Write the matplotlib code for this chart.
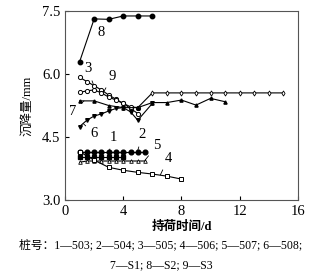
import matplotlib
matplotlib.use("Agg")
import matplotlib.pyplot as plt

plt.rcParams['font.family'] = ['Liberation Serif', 'Noto Sans CJK SC']
plt.rcParams['font.size'] = 9

# 桩号 1—503
x1 = [1, 1.5, 2, 2.5, 3, 3.5, 4]
y1 = [4.02, 4.02, 4.02, 4.02, 4.02, 4.02, 4.02]
# 2—504
x2 = [1, 1.5, 2, 2.5, 3, 3.5, 4, 4.5, 5, 5.5]
y2 = [4.15, 4.15, 4.15, 4.15, 4.15, 4.15, 4.15, 4.15, 4.15, 4.15]
# 3—505
x3 = [1, 1.5, 2, 2.5, 3, 3.5, 4, 4.5, 5]
y3 = [5.92, 5.82, 5.72, 5.62, 5.5, 5.4, 5.3, 5.18, 5.06]
# 4—506
x4 = [1, 2, 3, 4, 5, 6, 7, 8]
y4 = [4.15, 3.95, 3.78, 3.71, 3.66, 3.62, 3.57, 3.5]
# 5—507
x5 = [1, 1.5, 2, 2.5, 3, 3.5, 4, 4.5, 5, 5.5]
y5 = [3.9, 3.93, 3.93, 3.93, 3.93, 3.93, 3.93, 3.93, 3.93, 3.93]
# 6—508
x6 = [1, 1.5, 2, 2.5, 3, 3.5, 4, 4.5, 5, 6]
y6 = [4.75, 4.9, 5.0, 5.05, 5.12, 5.18, 5.2, 5.1, 4.9, 5.3]
# 7—S1
x7 = [1, 2, 3, 4, 5, 6, 7, 8, 9, 10, 11]
y7 = [5.36, 5.36, 5.25, 5.2, 5.2, 5.32, 5.32, 5.38, 5.26, 5.42, 5.34]
# 8—S2
x8 = [1, 2, 3, 4, 5, 6]
y8 = [6.29, 7.31, 7.3, 7.38, 7.38, 7.38]
# 9—S3
x9 = [1, 1.5, 2, 2.5, 3, 3.5, 4, 4.5, 5, 6, 7, 8, 9, 10, 11, 12, 13, 14, 15]
y9 = [5.56, 5.6, 5.62, 5.55, 5.45, 5.38, 5.3, 5.22, 5.2, 5.55, 5.55, 5.55,
      5.55, 5.55, 5.55, 5.55, 5.55, 5.55, 5.55]

fig = plt.figure(figsize=(3.22, 2.73), dpi=100)
ax = fig.add_axes([0.202, 0.267, 0.723, 0.693])

lw = 0.8
k = 'black'
ax.plot(x8, y8, '-o', color=k, lw=lw, ms=3.2, mfc=k)
ax.plot(x3, y3, '-o', color=k, lw=lw, ms=3, mfc='white', mew=0.7)
ax.plot(x9, y9, '-', color=k, lw=lw)
ax.plot(x9[:9], y9[:9], 'o', color=k, ms=3, mfc='white', mew=0.7)
ax.plot(x9[9:], y9[9:], 'd', color=k, ms=2.6, mfc='white', mew=0.6)
ax.plot(x7, y7, '-^', color=k, lw=lw, ms=2.3, mfc=k)
ax.plot(x6, y6, '-v', color=k, lw=lw, ms=2.6, mfc=k)
ax.plot(x2, y2, '-o', color=k, lw=lw, ms=3.4, mfc=k)
ax.plot(x1, y1, '-s', color=k, lw=lw, ms=3.4, mfc=k)
ax.plot(x5, y5, '-^', color=k, lw=lw, ms=2.6, mfc='white', mew=0.6)
ax.plot(x4, y4, '-s', color=k, lw=lw, ms=3, mfc='white', mew=0.7)

ax.set_xlim(0, 16)
ax.set_ylim(3.0, 7.5)
ax.set_xticks([0, 4, 8, 12, 16])
ax.set_yticks([3.0, 4.5, 6.0, 7.5])
ax.set_yticklabels(['3.0', '4.5', '6.0', '7.5'])
ax.tick_params(direction='in', length=3, width=0.8, labelsize=10.5)
for s in ax.spines.values():
    s.set_linewidth(0.8)
    s.set_color('#555555')

ax.set_xlabel('持荷时间/d', fontsize=9, fontweight='bold', labelpad=2)
ax.set_ylabel('沉降量/mm', fontsize=9, labelpad=6)

# 曲线编号
labels = [('8', 2.5, 6.98, 2.05, 7.28),
          ('3', 1.55, 6.12, 1.95, 5.75),
          ('9', 3.25, 5.95, 2.65, 5.57),
          ('7', 0.55, 5.1, 1.3, 5.36),
          ('6', 2.0, 4.58, 1.25, 4.82),
          ('1', 3.3, 4.5, 2.95, 4.05),
          ('2', 5.3, 4.55, 5.0, 4.18),
          ('5', 6.3, 4.3, 5.5, 3.95),
          ('4', 7.1, 4.0, 6.55, 3.6)]
for t, tx, ty, px, py in labels:
    ax.annotate(t, xy=(px, py), xytext=(tx, ty), fontsize=10.5,
                ha='center', va='center',
                arrowprops=dict(arrowstyle='-', lw=0.6, color=k,
                                shrinkA=2, shrinkB=0))

fig.text(0.5, 0.10, '桩号：1—503; 2—504; 3—505; 4—506; 5—507; 6—508;',
         ha='center', va='center', fontsize=8.5)
fig.text(0.5, 0.03, '7—S1; 8—S2; 9—S3', ha='center', va='center',
         fontsize=8.5)

fig.savefig('out.png', dpi=100)
